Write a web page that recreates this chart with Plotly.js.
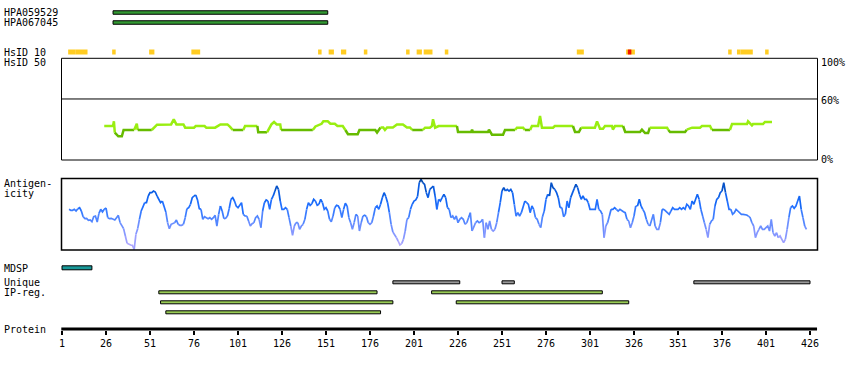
<!DOCTYPE html>
<html><head><meta charset="utf-8">
<script src="https://cdn.plot.ly/plotly-3.0.1.min.js"></script>
<style>html,body{margin:0;padding:0;background:#fff;}#chart{width:850px;height:370px;}</style>
</head><body><div id="chart"></div>
<script>
// ================= DATA =================
const tickResidues = [1,26,51,76,101,126,151,176,201,226,251,276,301,326,351,376,401,426];
const proteinEnd = 430;

const hpaNames = ["HPA059529","HPA067045"];
const hpaStart = [30,30];
const hpaEnd   = [152,152];

// HsID 10 (per-residue identity marks)
const hsid10Start = [5,9,30,51,75,147,153,160,173,197,203,207,219,294,322,380,385,387,401];
const hsid10End   = [8,15,31,53,79,148,155,162,174,198,205,211,220,297,326,381,386,393,402];
const hsid10RedStart = [323];
const hsid10RedEnd   = [324];

// HsID 50 (% identity)
const hsid50Res = [25,30,30.5,31,33,35,36,42,43.5,44,52,55,63,64.5,66,70,71,76,77,82,83,88,91,95,96.5,98,104,105,112,112.5,117.5,120,121.5,123,125,125.5,143.5,145,148.5,149.5,152,153.5,156,157.5,160.5,162,163.5,169,170,179,180,182,183.5,184.5,185.7,189,191.3,194.7,197,198.7,200,206,207.3,210,211.2,211.8,213,215,225.4,226,233.4,234,234.5,243,243.6,245.3,251.6,252.7,258.4,259.5,263,264,267,268,271.5,272.6,273.7,280,281,291.3,292.5,294.7,296,303.8,305,306.7,308.4,309.5,313.5,314,315.2,319.8,321,329.4,330.5,332.3,334,335,344.8,345.5,346.5,355,356,359,363.5,364.6,369.2,370.3,380.5,381.7,390.2,390.8,393,393.6,399.3,400.4,404.4];
const hsid50Val = [33.4,33.4,38,27,23.3,23.3,29.5,29.5,35.7,29.5,29.5,34.7,35,40,35,35,31.8,31.8,33.4,33.4,31.8,31.8,35,35,32.6,29.5,29.5,33.4,33.4,27.2,27.2,35,37.4,35,35,29.5,29.5,33,35.6,38,38,35.6,35.6,33.4,33.4,29.5,25.3,25.3,29.5,29.5,27,32,32,29.5,32,32,35,35,32,32,29.5,29.5,31.8,31.8,33.4,40,31.8,33.4,33.4,27.5,27.5,29.8,27.5,27.5,29.8,24.9,24.9,29.5,29.5,31.8,31.8,29.5,29.5,33.4,33.4,43.3,31.8,31.8,33.4,33.4,27.5,27.5,31.8,31.8,38,30.8,30.8,33.4,33.4,30,33.4,33.4,27.5,27.5,29.8,26.5,26.5,31.8,31.8,29.5,27.5,27.5,29.8,31.8,31.8,33.4,33.4,29.5,29.5,35.3,35.3,38,34,35.3,35.3,37.4,37.4];

// Antigenicity (one value per residue, starting at residue antigenStart)
const antigenStart = 5;
const antigenVal = [
60,58.5,58.5,60,57.5,61,62.5,57.5,49,46,
46.5,43.5,44,41.5,49,50,41,54,60,56,
60,62,47.5,46,46.5,45,44,47.5,51,40,
36,31,20,9,7.5,6.5,6,0,22.5,31,
45,57.5,65,70,70,80,85,85,87.5,86,
80,76,70,72.5,65,56,40,31,37.5,38.5,
40,44,37.5,36,36,37.5,47.5,61,62.5,67.5,
77.5,80,81.5,74,61,60,45,49,47.5,46,
47.5,45,47.5,51,35,52.5,65,57.5,46,46.5,
50,61,75,77.5,72.5,65,62.5,66,70,52.5,
50,50,42.5,35,38.5,40,47.5,50,45,32.5,
57.5,70,74,72.5,60,75,80,87.5,95,90,
72.5,60,60,62.5,60,47.5,35,21,35,40,
40,30,35,37.5,45,60,70,66,68.5,75,
72.5,66,67.5,75,70,60,62.5,57.5,45,41.5,
50,62.5,66,65,60,47.5,60,69,65,47.5,
40,30,40,52.5,50,27.5,40,50,51,49,
40,37.5,40,50,62.5,65,60,67.5,77.5,85,
79,70,55,37.5,26,22.5,17.5,12.5,6.5,8.5,
15,27.5,45,47.5,60,67.5,72.5,74,79,100,
105,100,97.5,85,77.5,90,92.5,95,80,60,
75,72.5,77.5,82.5,77.5,62.5,60,47.5,50,45,
50,40,45,47.5,45,37.5,40,47.5,55,27.5,
35,40,42.5,40,41.5,45,17.5,40,30,42.5,
30,27.5,30,40,55,70,87.5,92.5,87.5,90,
87.5,90,85,67.5,50,55,50,55,65,72.5,
70,67.5,55,65,60,47.5,45,37.5,32.5,49,
57.5,75,82.5,80,100,92.5,90,85,77.5,62.5,
62.5,49,52.5,72.5,62.5,77.5,85,91,97.5,92.5,
82.5,75,80,75,75,70,60,60,60,60,
75,60,57.5,52.5,17.5,35,40,50,60,60,
62.5,60,57.5,60,57.5,56.5,55,45,42.5,32.5,
40,50,65,65,75,65,60,55,45,37.5,
35,45,52.5,35,30,30,40,60,60,57.5,
55,52.5,57.5,62.5,60,60,60,62.5,60,62.5,
60,67.5,65,60,72.5,67.5,75,82.5,75,60,
50,40,30,17.5,37.5,42.5,45,65,75,77.5,
85,87.5,100,85,72.5,60,60,52.5,55,60,
57.5,55,52.5,52.5,52.5,51.5,50,47.5,40,35,
17.5,25,30,35,30,30,32.5,35,27.5,45,
25,20,25,17.5,20,15,10,15,30,47.5,
62.5,65,61.5,65,72.5,80,60,47.5,35,30];

// Features
const mdspStart = [1];
const mdspEnd   = [18];
const uniqueStart = [189,251,360];
const uniqueEnd   = [227,258,426];
const ipStart = [56,211,57,225,60];
const ipEnd   = [180,308,189,323,182];
const ipRow   = [0,0,1,1,2];

// ================= LAYOUT HELPERS =================
const W = 850, H = 370;
const FONT = 'DejaVu Sans Mono, monospace';
const pxPerRes = 1.76, res1px = 62;
const xRange = [1 - res1px/pxPerRes, 1 + (W - res1px)/pxPerRes];
const X = px => px / W;
const Y = py => 1 - py / H;

const rowY = {hpa:[12.5,22.5], hsid10:52, mdsp:267.8, unique:282.3, ip:[292.3,302.3,312.3], ruler:329};

const antColors = ['#b0a8ff','#9c9fff','#8597ff','#6d8fff','#5286ff','#3a7cff','#2270ff','#1467f5','#0a5de4','#0652c8','#0047ab'];
function antColor(v){ return antColors[Math.max(0, Math.min(10, Math.floor(v/10)))]; }
function hsColor(v){ return v >= 30.6 ? '#99ee11' : '#66bb00'; }

function segTraces(xs, ys, colorFn, width, yaxis){
  const out = []; let cur = null;
  for (let i = 0; i < xs.length - 1; i++){
    const c = colorFn((ys[i] + ys[i+1]) / 2);
    if (!cur || cur.line.color !== c){
      cur = {type:'scatter', mode:'lines', x:[xs[i]], y:[ys[i]], xaxis:'x', yaxis:yaxis,
             line:{color:c, width:width}, hoverinfo:'skip', showlegend:false};
      out.push(cur);
    }
    cur.x.push(xs[i+1]); cur.y.push(ys[i+1]);
  }
  return out;
}

function barTrace(starts, ends, ys, width, color, outline, pad){
  pad = pad || 0;
  return {type:'bar', orientation:'h', xaxis:'x', yaxis:'y3',
    base: starts.map(s => s - pad),
    x: starts.map((s,i) => ends[i] - s + 2*pad),
    y: ys, width: width,
    marker:{color:color, line:{color:'#000', width: outline ? 1 : 0}},
    hoverinfo:'skip', showlegend:false};
}

const traces = [];
traces.push(barTrace(hpaStart, hpaEnd, rowY.hpa, 3.5, '#339933', true));
traces.push(barTrace(hsid10Start, hsid10End, hsid10Start.map(()=>rowY.hsid10), 5, '#ffcc22', false, 0.5));
traces.push(barTrace(hsid10RedStart, hsid10RedEnd, hsid10RedStart.map(()=>rowY.hsid10), 5, '#ee1100', false, 0.5));
traces.push(...segTraces(hsid50Res, hsid50Val, hsColor, 2.5, 'y'));
const antRes = antigenVal.map((v,i) => antigenStart + i);
traces.push(...segTraces(antRes, antigenVal, antColor, 1.7, 'y2'));
traces.push(barTrace(mdspStart, mdspEnd, mdspStart.map(()=>rowY.mdsp), 4, '#199999', true));
traces.push(barTrace(uniqueStart, uniqueEnd, uniqueStart.map(()=>rowY.unique), 3, '#999999', true));
traces.push(barTrace(ipStart, ipEnd, ipRow.map(r => rowY.ip[r]), 3, '#99cc55', true));

const ann = (text, px, py, anchor) => ({text:text, x:X(px), y:Y(py), xref:'paper', yref:'paper',
  xanchor: anchor || 'left', yanchor:'middle', showarrow:false, font:{family:FONT, size:10, color:'#000'}});

const annotations = [
  ann(hpaNames[0], 2, rowY.hpa[0]), ann(hpaNames[1], 2, rowY.hpa[1]),
  ann('HsID 10', 2, 52), ann('HsID 50', 2, 62.5),
  ann('Antigen-', 2, 183), ann('icity', 2, 193),
  ann('MDSP', 2, 268), ann('Unique', 2, 282), ann('IP-reg.', 2, 292.5), ann('Protein', 2, 329),
  ann('100%', 819, 62.5), ann('60%', 819, 100), ann('0%', 819, 159)
];

const shapes = [
  {type:'rect', xref:'paper', yref:'paper', x0:X(61.5), x1:X(817.5), y0:Y(160), y1:Y(58.3), line:{color:'#000', width:1}},
  {type:'line', xref:'paper', yref:'y', x0:X(61.5), x1:X(817.5), y0:60, y1:60, line:{color:'#000', width:1}},
  {type:'rect', xref:'paper', yref:'paper', x0:X(61.5), x1:X(817.5), y0:Y(250), y1:Y(178.5), line:{color:'#000', width:1.5}},
  {type:'line', xref:'x', yref:'y3', x0:0.6, x1:proteinEnd, y0:rowY.ruler, y1:rowY.ruler, line:{color:'#000', width:3}}
];

const layout = {
  width:W, height:H, margin:{l:0, r:0, t:0, b:0}, paper_bgcolor:'#fff', plot_bgcolor:'rgba(0,0,0,0)',
  showlegend:false, barmode:'overlay', hovermode:false,
  xaxis:{range:xRange, domain:[0,1], anchor:'free', position:Y(330), tickmode:'array',
    tickvals:tickResidues, ticktext:tickResidues.map(String), ticks:'outside', ticklen:4, tickwidth:2,
    tickcolor:'#000', showline:false, showgrid:false, zeroline:false,
    tickfont:{family:FONT, size:10, color:'#000'}, fixedrange:true},
  yaxis:{domain:[Y(160), Y(58.3)], range:[0,100], visible:false, fixedrange:true, anchor:'x'},
  yaxis2:{domain:[Y(250), Y(178.5)], range:[-1,106.25], visible:false, fixedrange:true, anchor:'x'},
  yaxis3:{domain:[0,1], range:[H,0], visible:false, fixedrange:true, anchor:'x'},
  shapes:shapes, annotations:annotations
};

Plotly.newPlot('chart', traces, layout, {staticPlot:true, displayModeBar:false});
</script></body></html>
